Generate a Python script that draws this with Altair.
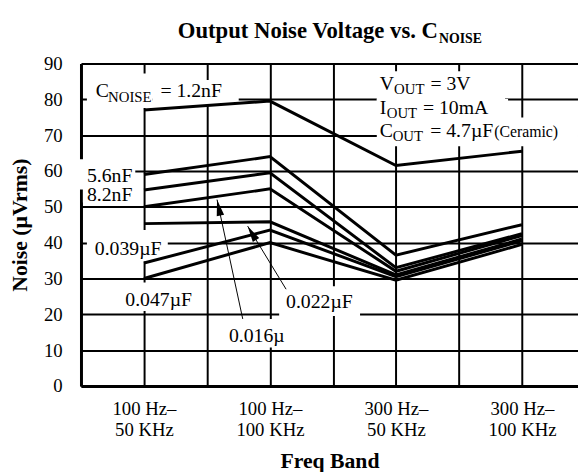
import altair as alt
import pandas as pd

# ---- data ----
band_pos = [1, 2, 3, 4]
bands_line1 = ["100 Hz–", "100 Hz–", "300 Hz–", "300 Hz–"]
bands_line2 = ["50 KHz", "100 KHz", "50 KHz", "100 KHz"]

cnoise = ["1.2nF", "5.6nF", "8.2nF", "0.016µF", "0.022µF", "0.039µF", "0.047µF"]
noise_1_2n = [77.0, 79.5, 61.5, 65.5]
noise_5_6n = [59.0, 64.0, 36.5, 45.0]
noise_8_2n = [54.7, 59.5, 33.0, 42.5]
noise_016u = [50.0, 55.0, 32.0, 42.0]
noise_022u = [45.3, 45.8, 31.0, 41.0]
noise_039u = [34.3, 43.5, 30.5, 40.5]
noise_047u = [30.0, 40.0, 29.5, 39.5]

y_ticks = [0, 10, 20, 30, 40, 50, 60, 70, 80, 90]
x_grid = [0.5, 1, 1.5, 2, 2.5, 3, 3.5, 4]

# annotation texts (data units): text, x, y, size
left_texts = [
    ("C", 0.617, 80.65, 20), ("NOISE", 0.715, 79.3, 15),
    ("5.6nF", 0.547, 56.9, 20), ("8.2nF", 0.547, 51.6, 20),
    ("0.039µF", 0.610, 36.6, 20), ("0.047µF", 0.852, 22.3, 20),
    ("0.016µ", 1.674, 12.4, 20), ("0.022µF", 2.128, 21.7, 20),
    ("V", 2.872, 82.6, 20), ("OUT", 2.985, 81.5, 15),
    ("I", 2.872, 76.0, 20), ("OUT", 2.927, 74.9, 15),
    ("C", 2.872, 69.6, 20), ("OUT", 2.974, 68.5, 15),
    ("(Ceramic)", 3.78, 69.6, 16),
]
right_texts = [
    ("= 1.2nF", 1.619, 80.65, 20),
    ("= 3V", 3.592, 82.6, 20),
    ("= 10mA", 3.733, 76.0, 20),
    ("= 4.7µF", 3.772, 69.6, 20),
]
# white label backgrounds: x, x2, y, y2
boxes = [
    (0.547, 1.07, 87.2, 77.6), (1.07, 1.752, 85.4, 78.1),
    (0.484, 0.931, 63.3, 54.8), (0.515, 0.931, 55.0, 51.2),
    (0.547, 1.189, 43.5, 34.7),
    (0.813, 1.424, 28.9, 20.9),
    (1.643, 2.144, 18.7, 10.7),
    (2.073, 2.715, 27.8, 19.5),
    (2.848, 3.866, 87.8, 79.3),
    (2.848, 3.89, 80.1, 74.3),
    (2.848, 4.445, 74.9, 66.9),
]
# arrows: start x, start y, tip x, tip y, head angle
arrows = [
    (1.784, 18.7, 1.580, 52.0, 348),
    (2.128, 27.0, 1.823, 44.6, 329),
]

series = [noise_1_2n, noise_5_6n, noise_8_2n, noise_016u, noise_022u, noise_039u, noise_047u]
rows = []
for name, vals in zip(cnoise, series):
    for p, v in zip(band_pos, vals):
        rows.append({"series": name, "x": p, "y": v})
df = pd.DataFrame(rows)

df_left = pd.DataFrame(left_texts, columns=["text", "x", "y", "size"])
df_right = pd.DataFrame(right_texts, columns=["text", "x", "y", "size"])
df_box = pd.DataFrame(boxes, columns=["x", "x2", "y", "y2"])
df_arrow = pd.DataFrame(arrows, columns=["x", "y", "x2", "y2", "angle"])

def q(items):
    return "[" + ",".join("'" + s + "'" for s in items) + "]"

label_expr = ("datum.value % 1 == 0 ? [" + q(bands_line1) + "[datum.value-1], "
              + q(bands_line2) + "[datum.value-1]] : ''")

xs = alt.Scale(domain=[0.5, 4.445], nice=False, zero=False)
ys = alt.Scale(domain=[0, 90], nice=False)

x_axis = alt.Axis(values=x_grid, grid=True, gridColor="black", gridWidth=2, gridOpacity=1,
                  domain=True, domainColor="black", domainWidth=3, ticks=False,
                  labelExpr=label_expr, labelFontSize=19, labelColor="black",
                  labelPadding=14, labelLineHeight=21, labelOverlap=False,
                  labelFlush=False, labelBound=False, labelAngle=0,
                  title="Freq Band", titleFontSize=22, titleFontWeight="bold",
                  titleColor="black", titlePadding=12)
y_axis = alt.Axis(values=y_ticks, grid=True, gridColor="black", gridWidth=2, gridOpacity=1,
                  domain=True, domainColor="black", domainWidth=3, ticks=False,
                  labelFontSize=19, labelColor="black", labelPadding=19,
                  title="Noise (µVrms)", titleFontSize=22, titleFontWeight="bold",
                  titleColor="black", titlePadding=12)

def X(f="x"):
    return alt.X(f + ":Q", scale=xs, axis=x_axis, title="Freq Band")

def Y(f="y"):
    return alt.Y(f + ":Q", scale=ys, axis=y_axis, title="Noise (µVrms)")

box_layer = alt.Chart(df_box).mark_rect(color="white").encode(
    x=X(), x2="x2", y=Y(), y2="y2")

lines = alt.Chart(df).mark_line(color="black", strokeWidth=3, strokeJoin="miter").encode(
    x=X(), y=Y(), detail="series:N", order="x:Q")

arrow_lines = alt.Chart(df_arrow).mark_rule(color="black", strokeWidth=1).encode(
    x=X(), y=Y(), x2="x2", y2="y2")

heads = alt.Chart(df_arrow).mark_point(
    shape="M0,0L0.6,2.6L-0.6,2.6Z", filled=True, color="black", opacity=1,
    size=160, strokeWidth=0).encode(
    x=X("x2"), y=Y("y2"), angle=alt.Angle("angle:Q", scale=None))

t_left = alt.Chart(df_left).mark_text(align="left", baseline="alphabetic", color="black",
                                      font="Liberation Serif").encode(
    x=X(), y=Y(), text="text:N", size=alt.Size("size:Q", scale=None))
t_right = alt.Chart(df_right).mark_text(align="right", baseline="alphabetic", color="black",
                                        font="Liberation Serif").encode(
    x=X(), y=Y(), text="text:N", size=alt.Size("size:Q", scale=None))

title_df = pd.DataFrame({"a": [0]})
title_main = alt.Chart(title_df).mark_text(
    text="Output Noise Voltage vs. C", align="right", baseline="alphabetic",
    fontSize=23, fontWeight="bold", color="black", font="Liberation Serif").encode(
    x=alt.value(362), y=alt.value(-26))
title_sub = alt.Chart(title_df).mark_text(
    text="NOISE", align="left", baseline="alphabetic",
    fontSize=14, fontWeight="bold", color="black", font="Liberation Serif").encode(
    x=alt.value(363), y=alt.value(-21))

chart = alt.layer(box_layer, lines, arrow_lines, heads, t_left, t_right,
                  title_main, title_sub).properties(
    width=504, height=327,
    autosize=alt.AutoSizeParams(type="none"),
    padding={"left": 74, "top": 53, "right": 0, "bottom": 84},
).configure(font="Liberation Serif").configure_view(strokeWidth=0)

chart.save("out.html", embed_options={"renderer": "svg", "actions": False})
